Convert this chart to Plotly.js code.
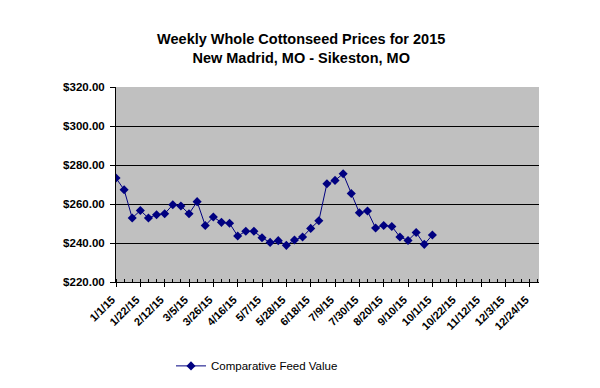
<!DOCTYPE html>
<html>
<head>
<meta charset="utf-8">
<script src="https://cdn.plot.ly/plotly-3.0.1.min.js"></script>
<style>html,body{margin:0;padding:0;background:#fff;}#chart{width:600px;height:388px;}</style>
</head>
<body>
<div id="chart"></div>
<script>
// Weekly dates (x) and prices (y)
var weekDates = [
  '2015-01-01','2015-01-08','2015-01-15','2015-01-22','2015-01-29',
  '2015-02-05','2015-02-12','2015-02-19','2015-02-26','2015-03-05',
  '2015-03-12','2015-03-19','2015-03-26','2015-04-02','2015-04-09',
  '2015-04-16','2015-04-23','2015-04-30','2015-05-07','2015-05-14',
  '2015-05-21','2015-05-28','2015-06-04','2015-06-11','2015-06-18',
  '2015-06-25','2015-07-02','2015-07-09','2015-07-16','2015-07-23',
  '2015-07-30','2015-08-06','2015-08-13','2015-08-20','2015-08-27',
  '2015-09-03','2015-09-10','2015-09-17','2015-09-24','2015-10-01'
];
var feedValue = [
  273.3, 267.3, 252.8, 256.7, 252.8,
  254.5, 255.0, 259.6, 259.0, 255.0,
  261.2, 249.0, 253.3, 250.6, 250.1,
  243.6, 246.0, 246.0, 242.7, 240.3,
  241.2, 238.8, 241.5, 243.1, 247.5,
  251.4, 270.4, 272.1, 275.5, 265.4,
  255.5, 256.4, 247.7, 249.0, 248.5,
  243.1, 241.3, 245.4, 239.3, 244.1
];
var tickDates = [
  '2015-01-01','2015-01-22','2015-02-12','2015-03-05','2015-03-26','2015-04-16',
  '2015-05-07','2015-05-28','2015-06-18','2015-07-09','2015-07-30','2015-08-20',
  '2015-09-10','2015-10-01','2015-10-22','2015-11-12','2015-12-03','2015-12-24'
];
var tickLabels = [
  '1/1/15','1/22/15','2/12/15','3/5/15','3/26/15','4/16/15',
  '5/7/15','5/28/15','6/18/15','7/9/15','7/30/15','8/20/15',
  '9/10/15','10/1/15','10/22/15','11/12/15','12/3/15','12/24/15'
];
var yTicks = [220, 240, 260, 280, 300, 320];
var yTickLabels = ['$220.00', '$240.00', '$260.00', '$280.00', '$300.00', '$320.00'];

var FONT = 'Arial, "Liberation Sans", sans-serif';

var trace = {
  x: weekDates,
  y: feedValue,
  type: 'scatter',
  mode: 'lines+markers',
  name: 'Comparative Feed Value',
  line: {color: '#000080', width: 1},
  marker: {symbol: 'diamond', size: 7, color: '#000080'}
};

var layout = {
  width: 600, height: 388,
  margin: {l: 116, r: 61, t: 87, b: 106},
  paper_bgcolor: '#ffffff',
  plot_bgcolor: '#C0C0C0',
  font: {family: FONT, color: '#000000'},
  title: {
    text: '<b>Weekly Whole Cottonseed Prices for 2015<br>New Madrid, MO - Sikeston, MO</b>',
    font: {family: FONT, size: 14.5, color: '#000000'},
    x: 0.502, xref: 'container', xanchor: 'center',
    y: 0.887, yref: 'container', yanchor: 'top'
  },
  xaxis: {
    type: 'date',
    range: ['2015-01-01', '2016-01-01'],
    tickmode: 'array',
    tickvals: tickDates,
    ticktext: tickLabels,
    tickangle: -45,
    ticklabelshift: -4,
    ticklabelstandoff: 2,
    ticks: 'outside', ticklen: 4, tickcolor: '#000', tickwidth: 1,
    minor: {dtick: 7 * 86400000, tick0: '2015-01-01', ticks: 'inside', ticklen: 3, tickcolor: '#000', showgrid: false},
    showline: true, linecolor: '#000', linewidth: 1,
    showgrid: false, zeroline: false,
    tickfont: {family: FONT, size: 11, color: '#000', weight: 'bold'}
  },
  yaxis: {
    range: [220, 320],
    tickmode: 'array',
    tickvals: yTicks,
    ticktext: yTickLabels,
    ticks: 'outside', ticklen: 5, tickcolor: '#000', tickwidth: 1,
    ticklabelstandoff: 3,
    showline: true, linecolor: '#000', linewidth: 1,
    showgrid: true, gridcolor: '#000', gridwidth: 1,
    zeroline: false,
    tickfont: {family: FONT, size: 11.5, color: '#000', weight: 'bold'}
  },
  showlegend: true,
  legend: {
    orientation: 'h',
    xref: 'container', yref: 'container',
    x: 0.285, xanchor: 'left',
    y: 0.057, yanchor: 'middle',
    font: {family: FONT, size: 11.5, color: '#000'},
    bgcolor: 'rgba(0,0,0,0)'
  }
};

Plotly.newPlot('chart', [trace], layout, {displayModeBar: false, staticPlot: true});
</script>
</body>
</html>
